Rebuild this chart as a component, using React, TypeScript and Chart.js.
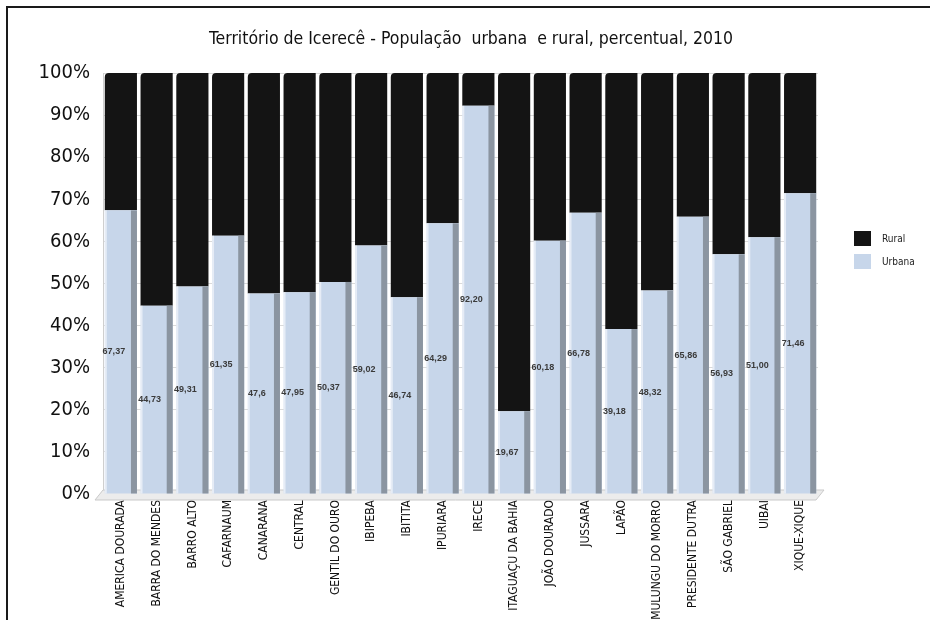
import React, { useEffect, useRef } from "react";
import { Chart, registerables } from "chart.js";

Chart.register(...registerables);

const municipios = [
  "AMERICA DOURADA", "BARRA DO MENDES", "BARRO ALTO", "CAFARNAUM", "CANARANA",
  "CENTRAL", "GENTIL DO OURO", "IBIPEBA", "IBITITA", "IPURIARA", "IRECE",
  "ITAGUAÇU DA BAHIA", "JOÃO DOURADO", "JUSSARA", "LAPÃO", "MULUNGU DO MORRO",
  "PRESIDENTE DUTRA", "SÃO GABRIEL", "UIBAI", "XIQUE-XIQUE",
];

const urbana = [67.37, 44.73, 49.31, 61.35, 47.6, 47.95, 50.37, 59.02, 46.74, 64.29,
  92.2, 19.67, 60.18, 66.78, 39.18, 48.32, 65.86, 56.93, 61.0, 71.46];

const rural = [32.63, 55.27, 50.69, 38.65, 52.4, 52.05, 49.63, 40.98, 53.26, 35.71,
  7.8, 80.33, 39.82, 33.22, 60.82, 51.68, 34.14, 43.07, 39.0, 28.54];

const urbanaRotulos = ["67,37", "44,73", "49,31", "61,35", "47,6", "47,95", "50,37", "59,02",
  "46,74", "64,29", "92,20", "19,67", "60,18", "66,78", "39,18", "48,32", "65,86", "56,93",
  "51,00", "71,46"];

const yTicks = [0, 10, 20, 30, 40, 50, 60, 70, 80, 90, 100];

const titulo = "Território de Icerecê - População  urbana  e rural, percentual, 2010";

const NARROW = "'DejaVu Sans Condensed', 'Liberation Sans Narrow', sans-serif";

const COR_RURAL = "#141414";
const COR_URBANA = "#c7d6ea";
const COR_LADO = "#8b95a1";

const decorPlugin = {
  id: "decor",
  beforeDatasetsDraw(chart: any) {
    const { ctx, chartArea } = chart;
    const { left, right, bottom } = chartArea;
    ctx.save();
    ctx.fillStyle = "#ececec";
    ctx.strokeStyle = "#c9c9c9";
    ctx.lineWidth = 1;
    ctx.beginPath();
    ctx.moveTo(left - 8, bottom + 6);
    ctx.lineTo(right - 2, bottom + 6);
    ctx.lineTo(right + 6, bottom - 4);
    ctx.lineTo(left, bottom - 4);
    ctx.closePath();
    ctx.fill();
    ctx.stroke();
    ctx.restore();
  },
  afterDatasetsDraw(chart: any) {
    const { ctx } = chart;
    const meta = chart.getDatasetMeta(0);
    ctx.save();
    meta.data.forEach((bar: any) => {
      const w = bar.width;
      ctx.fillStyle = COR_LADO;
      ctx.fillRect(bar.x + w / 2 - 6, bar.y, 6, bar.base - bar.y);
      ctx.fillStyle = "rgba(255,255,255,0.55)";
      ctx.fillRect(bar.x - w / 2, bar.y, 2, bar.base - bar.y);
    });
    ctx.font = "bold 9px 'Liberation Sans', Arial, sans-serif";
    ctx.fillStyle = "#3a3a3a";
    ctx.textAlign = "center";
    ctx.textBaseline = "middle";
    meta.data.forEach((bar: any, i: number) => {
      ctx.fillText(urbanaRotulos[i], bar.x - 7, (bar.y + bar.base) / 2);
    });
    ctx.restore();
  },
  afterDraw(chart: any) {
    const { ctx } = chart;
    const items = [
      { label: chart.data.datasets[1].label, color: COR_RURAL, y: 231 },
      { label: chart.data.datasets[0].label, color: COR_URBANA, y: 254 },
    ];
    ctx.save();
    ctx.font = `10px ${NARROW}`;
    ctx.textBaseline = "middle";
    ctx.textAlign = "left";
    items.forEach((it) => {
      ctx.fillStyle = it.color;
      ctx.fillRect(854, it.y, 17, 15);
      ctx.fillStyle = "#222";
      ctx.fillText(it.label, 882, it.y + 8);
    });
    ctx.restore();
  },
};

export default function App() {
  const ref = useRef<HTMLCanvasElement>(null);

  useEffect(() => {
    if (!ref.current) return;
    const chart = new Chart(ref.current, {
      type: "bar",
      data: {
        labels: municipios,
        datasets: [
          {
            label: "Urbana",
            data: urbana,
            backgroundColor: COR_URBANA,
            borderWidth: 0,
            barPercentage: 0.9,
            categoryPercentage: 1,
          },
          {
            label: "Rural",
            data: rural,
            backgroundColor: COR_RURAL,
            borderWidth: 0,
            barPercentage: 0.9,
            categoryPercentage: 1,
            borderRadius: { topLeft: 4, topRight: 0, bottomLeft: 0, bottomRight: 0 },
            borderSkipped: false,
          },
        ],
      },
      options: {
        responsive: false,
        animation: false,
        layout: { padding: { left: 12, right: 0, top: 0, bottom: 0 } },
        plugins: {
          legend: { display: false },
          tooltip: { enabled: false },
          title: {
            display: true,
            text: titulo,
            color: "#111",
            font: { family: NARROW, size: 17.5, weight: "normal" },
            padding: { top: 29, bottom: 23 },
          },
        },
        scales: {
          x: {
            stacked: true,
            grid: { display: false, drawTicks: false },
            border: { display: false },
            ticks: {
              autoSkip: false,
              maxRotation: 90,
              minRotation: 90,
              padding: 6,
              color: "#111",
              font: { family: NARROW, size: 12 },
            },
            afterFit(s: any) {
              s.height = 126;
            },
          },
          y: {
            stacked: true,
            min: 0,
            max: 100,
            afterBuildTicks(s: any) {
              s.ticks = yTicks.map((v) => ({ value: v }));
            },
            grid: { color: "#dadada", drawTicks: false },
            border: { display: true, color: "#cfcfcf" },
            ticks: {
              padding: 13,
              color: "#111",
              font: { family: NARROW, size: 20 },
              callback: (v: any) => v + "%",
            },
            afterFit(s: any) {
              s.width = 91;
            },
          },
          yRight: {
            position: "right",
            display: true,
            grid: { display: false, drawTicks: false },
            border: { display: false },
            ticks: { display: false },
            afterFit(s: any) {
              s.width = 112;
            },
          },
        },
      },
      plugins: [decorPlugin],
    });
    return () => chart.destroy();
  }, []);

  return (
    <div style={{ position: "fixed", left: 0, top: 0, width: 930, height: 620, background: "#fff" }}>
      <canvas ref={ref} width={930} height={620} style={{ position: "absolute", left: 0, top: 0 }} />
      <div
        style={{
          position: "absolute",
          left: 6,
          top: 6,
          width: 940,
          height: 630,
          borderLeft: "2px solid #1a1a1a",
          borderTop: "2px solid #1a1a1a",
          pointerEvents: "none",
        }}
      />
    </div>
  );
}
